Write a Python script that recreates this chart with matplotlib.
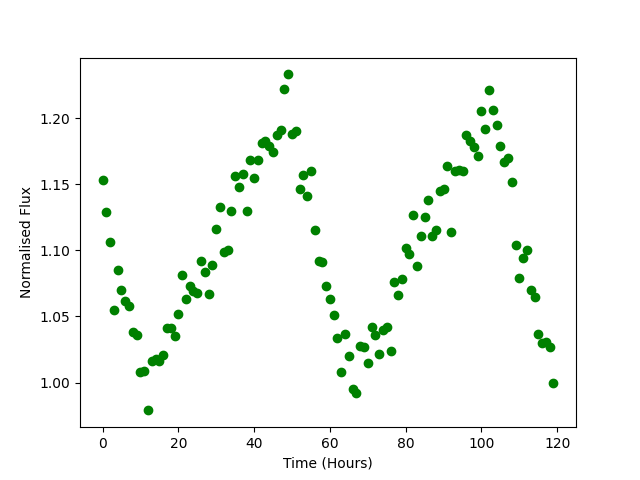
import matplotlib
matplotlib.use("Agg")
import matplotlib.pyplot as plt
import numpy as np

time_hours = list(range(120))
flux = [
    1.153, 1.129, 1.106, 1.055, 1.085, 1.070, 1.062, 1.058, 1.038, 1.036,
    1.008, 1.009, 0.979, 1.016, 1.018, 1.016, 1.021, 1.041, 1.041, 1.035,
    1.052, 1.081, 1.063, 1.073, 1.069, 1.068, 1.092, 1.084, 1.067, 1.089,
    1.116, 1.133, 1.099, 1.100, 1.130, 1.156, 1.148, 1.158, 1.130, 1.168,
    1.155, 1.168, 1.181, 1.183, 1.179, 1.174, 1.187, 1.191, 1.222, 1.233,
    1.188, 1.190, 1.146, 1.157, 1.141, 1.160, 1.115, 1.092, 1.091, 1.073,
    1.063, 1.051, 1.034, 1.008, 1.037, 1.020, 0.995, 0.992, 1.028, 1.027,
    1.015, 1.042, 1.036, 1.022, 1.040, 1.042, 1.024, 1.076, 1.066, 1.078,
    1.102, 1.097, 1.127, 1.088, 1.111, 1.125, 1.138, 1.111, 1.115, 1.145,
    1.146, 1.164, 1.114, 1.160, 1.161, 1.160, 1.187, 1.183, 1.178, 1.171,
    1.205, 1.192, 1.221, 1.206, 1.195, 1.179, 1.167, 1.170, 1.152, 1.104,
    1.079, 1.094, 1.100, 1.070, 1.065, 1.037, 1.030, 1.031, 1.027, 1.000,
]

fig, ax = plt.subplots(figsize=(6.4, 4.8), dpi=100)
ax.plot(time_hours, flux, 'go')
ax.set_xlabel('Time (Hours)')
ax.set_ylabel('Normalised Flux')
fig.savefig('out.png')
